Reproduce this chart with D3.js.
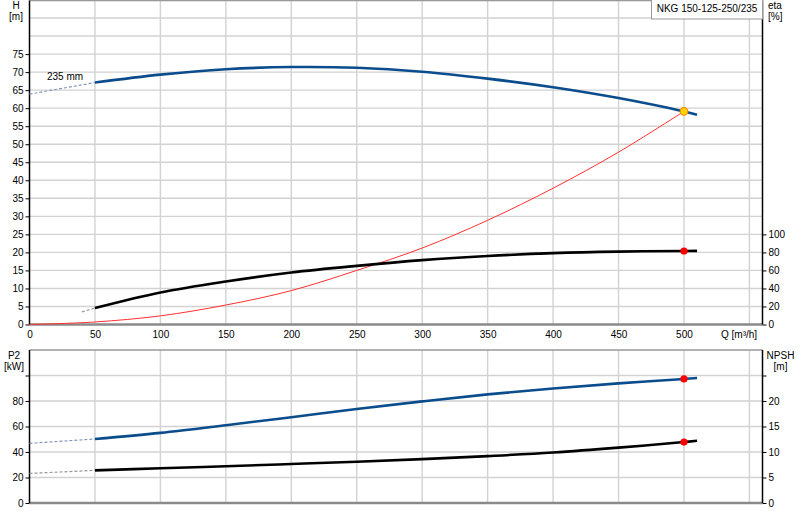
<!DOCTYPE html>
<html lang="en">
<head>
  <meta charset="UTF-8">
  <title>NKG 150-125-250/235</title>
  <script src="https://d3js.org/d3.v7.min.js"></script>
  <style>
    body { margin: 0; background: #fff; }
    svg text { font-family: "Liberation Sans", Arial, sans-serif; font-size: 10px; fill: #000; }
  </style>
</head>
<body>

  <script>
    ((window, document) => {
      "use strict";

      /**
       * -----------------------------------------------------------------------
       *  Data
       * -----------------------------------------------------------------------
       */

      // Flow Q [m³/h]
      const flowQ = [0, 50, 100, 150, 200, 250, 300, 350, 400, 450, 500, 510];
      // Head H [m], 235 mm impeller
      const headH = [63.9, 67.1, 69.3, 70.8, 71.4, 71.2, 70.1, 68.2, 65.8, 62.8, 59.1, 58.2];
      // Efficiency eta [%]
      const etaQ = [40, 50, 100, 150, 200, 250, 300, 350, 400, 450, 500, 510];
      const etaPct = [14.0, 18.2, 35.5, 47.7, 57.7, 65.1, 71.4, 76.0, 79.2, 80.9, 81.6, 81.7];
      // System curve H [m]
      const systemQ = [0, 50, 100, 150, 200, 250, 300, 350, 400, 450, 500];
      const systemH = [0, 0.7, 2.4, 5.4, 9.4, 15.0, 21.2, 28.9, 37.8, 47.8, 59.1];
      // Power P2 [kW]
      const powerP2 = [46.8, 50.2, 55.0, 61.0, 67.3, 73.7, 79.7, 85.2, 89.8, 93.8, 97.3, 98.0];
      // NPSH [m]
      const npshM = [5.8, 6.4, 6.8, 7.2, 7.65, 8.1, 8.6, 9.2, 9.9, 10.85, 11.95, 12.2];
      // Duty point
      const dutyQ = 500;

      // Tick labels
      const qTicks = [0, 50, 100, 150, 200, 250, 300, 350, 400, 450, 500];
      const qGrid = [50, 100, 150, 200, 250, 300, 350, 400, 450, 500, 550];
      const hTicks = [0, 5, 10, 15, 20, 25, 30, 35, 40, 45, 50, 55, 60, 65, 70, 75];
      const hGrid = [5, 10, 15, 20, 25, 30, 35, 40, 45, 50, 55, 60, 65, 70, 75, 80, 85];
      const etaTicks = [0, 20, 40, 60, 80, 100];
      const p2Ticks = [0, 20, 40, 60, 80, 100];
      const npshTicks = [0, 5, 10, 15, 20, 25];


      /**
       * -----------------------------------------------------------------------
       *  Scales
       * -----------------------------------------------------------------------
       */

      const svg = d3.select("body").append("svg")
          .attr("width", 800).attr("height", 520);

      const x = d3.scaleLinear().domain([0, 560]).range([29.5, 762.5]);
      const yH = d3.scaleLinear().domain([0, 90]).range([324.5, 0]);
      const yEta = d3.scaleLinear().domain([0, 100]).range([324.5, 234.4]);
      const yP2 = d3.scaleLinear().domain([0, 120]).range([503, 350]);
      const yNpsh = d3.scaleLinear().domain([0, 30]).range([503, 350]);

      const BLUE = "#0b4c8c";
      const GRID = "#d2d2d2";


      /**
       * -----------------------------------------------------------------------
       *  Render
       * -----------------------------------------------------------------------
       */

      function panel (yScale, top, bottom, hLines) {
        let g = svg.append("g");
        g.selectAll(".vg").data(qGrid).enter().append("line")
            .attr("x1", d => x(d)).attr("x2", d => x(d))
            .attr("y1", top).attr("y2", bottom)
            .attr("stroke", GRID).attr("stroke-width", 1.4);
        g.selectAll(".hg").data(hLines).enter().append("line")
            .attr("x1", x(0)).attr("x2", x(560))
            .attr("y1", d => yScale(d)).attr("y2", d => yScale(d))
            .attr("stroke", GRID).attr("stroke-width", 1.4);
        // frame
        g.append("line").attr("x1", x(0)).attr("x2", x(560)).attr("y1", top).attr("y2", top)
            .attr("stroke", "#999").attr("stroke-width", 1.5);
        g.append("line").attr("x1", x(0)).attr("x2", x(560)).attr("y1", bottom).attr("y2", bottom)
            .attr("stroke", "#8a8a8a").attr("stroke-width", 2.5);
        g.append("line").attr("x1", x(0)).attr("x2", x(0)).attr("y1", top).attr("y2", bottom)
            .attr("stroke", "#000").attr("stroke-width", 1.5);
        g.append("line").attr("x1", x(560)).attr("x2", x(560)).attr("y1", top).attr("y2", bottom)
            .attr("stroke", "#000").attr("stroke-width", 1.5);
        return g;
      }

      function styleAxis (g) {
        g.select(".domain").remove();
        g.selectAll(".tick line").attr("stroke", "#000");
        g.selectAll("text").attr("font-size", null).attr("font-family", null);
      }

      panel(yH, 0.5, 324.5, hGrid);
      panel(yP2, 350, 503, [20, 40, 60, 80, 100]);

      // Axes - top panel
      svg.append("g").attr("transform", `translate(${x(0)},0)`)
          .call(d3.axisLeft(yH).tickValues(hTicks).tickSize(4).tickPadding(2))
          .call(styleAxis);
      svg.append("g").attr("transform", `translate(${x(560)},0)`)
          .call(d3.axisRight(yEta).tickValues(etaTicks).tickSize(4).tickPadding(2))
          .call(styleAxis);
      svg.append("g").attr("transform", `translate(0,${yH(0)})`)
          .call(d3.axisBottom(x).tickValues(qTicks).tickSize(0).tickPadding(6))
          .call(styleAxis);

      // Axes - bottom panel
      svg.append("g").attr("transform", `translate(${x(0)},0)`)
          .call(d3.axisLeft(yP2).tickValues(p2Ticks).tickSize(4).tickPadding(2)
            .tickFormat(d => d > 80 ? "" : d))
          .call(styleAxis);
      svg.append("g").attr("transform", `translate(${x(560)},0)`)
          .call(d3.axisRight(yNpsh).tickValues(npshTicks).tickSize(4).tickPadding(2)
            .tickFormat(d => d > 20 ? "" : d))
          .call(styleAxis);

      // Axis titles
      const labels = [
        { t: "H", x: 16, y: 8.5, a: "middle" },
        { t: "[m]", x: 16, y: 19.5, a: "middle" },
        { t: "eta", x: 768, y: 8.5, a: "start" },
        { t: "[%]", x: 768, y: 19.5, a: "start" },
        { t: "Q [m³/h]", x: 721, y: 337.6, a: "start" },
        { t: "P2", x: 14, y: 358.5, a: "middle" },
        { t: "[kW]", x: 14, y: 369.5, a: "middle" },
        { t: "NPSH", x: 780.5, y: 358.5, a: "middle" },
        { t: "[m]", x: 780.5, y: 369.5, a: "middle" },
        { t: "235 mm", x: 47, y: 80, a: "start" },
      ];
      svg.selectAll(".lbl").data(labels).enter().append("text")
          .attr("x", d => d.x).attr("y", d => d.y)
          .attr("text-anchor", d => d.a)
          .text(d => d.t);

      // Title box
      svg.append("rect")
          .attr("x", 651.5).attr("y", -0.5).attr("width", 111).attr("height", 19.5)
          .attr("fill", "#fff").attr("stroke", "#999");
      svg.append("text").attr("x", 707).attr("y", 11.5).attr("text-anchor", "middle")
          .text("NKG 150-125-250/235");

      // Curves
      function curve (qs, vs, yScale, from, to, color, width, dash) {
        let pts = qs.map((q, i) => [q, vs[i]]).slice(from, to);
        let line = d3.line()
            .x(d => x(d[0])).y(d => yScale(d[1]))
            .curve(d3.curveCatmullRom.alpha(0.5));
        svg.append("path").datum(pts)
            .attr("d", line)
            .attr("fill", "none")
            .attr("stroke", color)
            .attr("stroke-width", width)
            .attr("stroke-dasharray", dash || null)
            .attr("stroke-linecap", "butt");
      }

      // system curve
      curve(systemQ, systemH, yH, 0, undefined, "#ff3030", 1);

      // head
      curve(flowQ, headH, yH, 0, 2, "#8797b8", 1.2, "3,2");
      curve(flowQ, headH, yH, 1, undefined, BLUE, 2.6);
      // efficiency
      curve(etaQ, etaPct, yEta, 0, 2, "#999", 1.2, "3,2");
      curve(etaQ, etaPct, yEta, 1, undefined, "#000", 2.6);
      // power
      curve(flowQ, powerP2, yP2, 0, 2, "#8797b8", 1.2, "3,2");
      curve(flowQ, powerP2, yP2, 1, undefined, BLUE, 2.6);
      // npsh
      curve(flowQ, npshM, yNpsh, 0, 2, "#999", 1.2, "3,2");
      curve(flowQ, npshM, yNpsh, 1, undefined, "#000", 2.6);

      // Duty points
      const di = flowQ.indexOf(dutyQ);
      const ei = etaQ.indexOf(dutyQ);
      const dots = [
        { y: yEta(etaPct[ei]) },
        { y: yP2(powerP2[di]) },
        { y: yNpsh(npshM[di]) },
      ];
      svg.selectAll(".dot").data(dots).enter().append("circle")
          .attr("cx", x(dutyQ)).attr("cy", d => d.y).attr("r", 3.6)
          .attr("fill", "#ff0000");
      svg.append("circle")
          .attr("cx", x(dutyQ)).attr("cy", yH(headH[di])).attr("r", 3.8)
          .attr("fill", "#ffd400").attr("stroke", "#ff8a00").attr("stroke-width", 1.2);

    })(window, document);
  </script>

</body>
</html>
